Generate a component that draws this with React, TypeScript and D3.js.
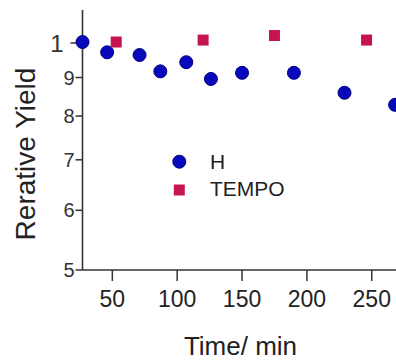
import * as d3 from 'd3';

// H series
const hTime = [27, 46, 71, 87, 107, 126, 150, 190, 229, 268];
const hYield = [1.003, 0.972, 0.964, 0.917, 0.943, 0.896, 0.913, 0.913, 0.859, 0.828];

// TEMPO series
const tempoTime = [53, 120, 175, 246];
const tempoYield = [1.003, 1.009, 1.023, 1.009];

const xTicks = [50, 100, 150, 200, 250];
const yTicks = [0.5, 0.6, 0.7, 0.8, 0.9, 1];

const font = 'Liberation Sans, Arial, sans-serif';
const axisColor = '#333';
const blue = '#0808bc';
const crimson = '#c8144e';

export default function App() {
  const w = 396, h = 361;

  const x = d3.scaleLinear().domain([27, 268.7]).range([82.5, 396]);
  const y = d3.scaleLog().domain([0.5, 1.106]).range([270, 10]);

  const x0 = x.range()[0];
  const yb = y.range()[0];

  return (
    <svg width={w} height={h} style={{ position: 'absolute', left: 0, top: 0, background: '#fff' }}>
      {/* axes */}
      <line x1={x0} x2={x0} y1={y.range()[1]} y2={yb} stroke={axisColor} strokeWidth={1.6} />
      <line x1={x0} x2={w} y1={yb} y2={yb} stroke={axisColor} strokeWidth={1.6} />

      {yTicks.map(t => {
        const major = t === 1;
        const len = major ? 12 : 7;
        return (
          <g key={t}>
            <line x1={x0 - len} x2={x0} y1={y(t)} y2={y(t)} stroke={axisColor} strokeWidth={1.5} />
            <text
              x={x0 - len - (major ? 7 : 1)}
              y={y(t)}
              dy="0.36em"
              textAnchor="end"
              fontFamily={font}
              fontSize={major ? 24 : 20}
              fill="#333"
            >
              {major ? '1' : String(Math.round(t * 10))}
            </text>
          </g>
        );
      })}

      {xTicks.map(t => (
        <g key={t}>
          <line x1={x(t)} x2={x(t)} y1={yb} y2={yb + 11} stroke={axisColor} strokeWidth={1.5} />
          <text x={x(t)} y={307} textAnchor="middle" fontFamily={font} fontSize={23} fill="#222">
            {t}
          </text>
        </g>
      ))}

      {/* titles */}
      <text x={240.5} y={355} textAnchor="middle" fontFamily={font} fontSize={26} fill="#222">
        Time/ min
      </text>
      <text
        transform={`translate(35,154) rotate(-90)`}
        textAnchor="middle"
        fontFamily={font}
        fontSize={28}
        fill="#222"
      >
        Rerative Yield
      </text>

      {/* points */}
      {hTime.map((t, i) => (
        <circle key={'h' + i} cx={x(t)} cy={y(hYield[i])} r={6.5} fill={blue} stroke="#00007a" strokeWidth={1} />
      ))}
      {tempoTime.map((t, i) => (
        <rect key={'t' + i} x={x(t) - 5.5} y={y(tempoYield[i]) - 5.5} width={11} height={11} fill={crimson} />
      ))}

      {/* legend */}
      <circle cx={179.3} cy={161.7} r={6.5} fill={blue} stroke="#00007a" strokeWidth={1} />
      <text x={210} y={169} fontFamily={font} fontSize={21} fill="#222">H</text>
      <rect x={179.3 - 5.5} y={190 - 5.5} width={11} height={11} fill={crimson} />
      <text x={210} y={196} fontFamily={font} fontSize={21} fill="#222">TEMPO</text>
    </svg>
  );
}
